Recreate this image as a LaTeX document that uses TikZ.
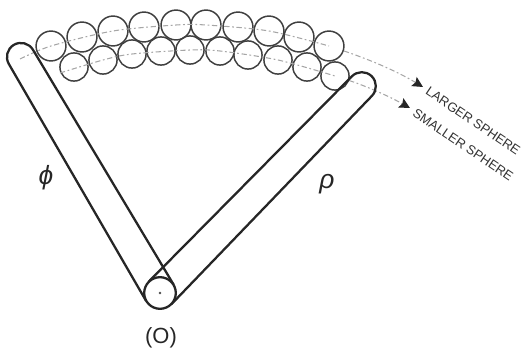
\documentclass[tikz,border=0pt]{standalone}
\usepackage{fontspec}
\setmainfont{Liberation Sans}
\usetikzlibrary{arrows.meta,positioning}
\tikzset{
  bigsph/.style={draw=black!75,circle,line width=0.85pt,inner sep=0pt,minimum size=17pt},
  smallsph/.style={draw=black!75,circle,line width=0.85pt,inner sep=0pt,minimum size=16pt},
  arm/.style={draw=black!85,line width=1.3pt,line join=round},
  track/.style={gray!70,line width=0.6pt,dash pattern=on 3pt off 1.5pt on 1pt off 1.5pt},
  tip/.style={-{Stealth[length=6pt,width=6pt,inset=1pt,black!85]}},
  lab/.style={font=\fontsize{7.4}{9}\selectfont,text=black!80,rotate=-34,anchor=west,inner sep=0pt},
  greek/.style={font=\fontsize{15}{17}\selectfont\itshape,text=black!85}
}
\begin{document}
\begin{tikzpicture}[x=0.02cm,y=-0.02cm]
  \useasboundingbox (0,0) rectangle (524,355);
  \coordinate (O) at (160,293);
  \coordinate (bigstart) at (20,59);
  \coordinate (smallstart) at (60,73);
  \coordinate (bigend) at (423,87);
  \coordinate (smallend) at (410,108);
  % spheres, outer row then inner row
  \foreach \lab/\x/\y in {1/51/46,2/82/37,3/113/31,4/144/27,5/176/25,6/206/25,7/238/27,8/269/31,9/299/37,10/329/46}
    \node[bigsph] (b\lab) at (\x,\y) {};
  \foreach \lab/\x/\y in {1/74/67,2/103/60,3/132/54,4/161/51,5/190/50,6/220/51,7/248/55,8/278/60,9/307/67,10/335/76}
    \node[smallsph] (s\lab) at (\x,\y) {};
  % paths of the sphere centres
  \draw[track] plot[smooth] coordinates {(bigstart) (b1) (b3) (b5) (b6) (b8) (b10)};
  \draw[track,tip] (b10) .. controls (365,58) and (395,70) .. (bigend);
  \draw[track] plot[smooth] coordinates {(smallstart) (s2) (s3) (s5) (s6) (s8) (s10)};
  \draw[track,tip] (s10) .. controls (360,84) and (385,94) .. (smallend);
  % the two arms
  \begin{scope}[shift={(O)},rotate=120.5]
    \draw[arm] (0,16) -- (274,14) arc (90:-90:14) -- (0,-16);
  \end{scope}
  \begin{scope}[shift={(O)},rotate=45.7]
    \draw[arm] (0,16) -- (289,14) arc (90:-90:14) -- (0,-16);
  \end{scope}
  \node[arm,circle,fill=white,inner sep=0pt,minimum size=18pt] (hub) at (O) {};
  \node[circle,fill=black!70,inner sep=0pt,minimum size=1.6pt] (centre) at (O) {};
  % labels
  \node[lab] (larger) at (427,90) {LARGER SPHERE};
  \node[lab] (smaller) at (414,112) {SMALLER SPHERE};
  \node[greek] (phi) at (46,178) {ϕ};
  \node[greek] (rho) at (327,184) {ρ};
  \node[font=\fontsize{12.5}{15}\selectfont,text=black!85] (origin) at (161,338) {(O)};
\end{tikzpicture}
\end{document}
